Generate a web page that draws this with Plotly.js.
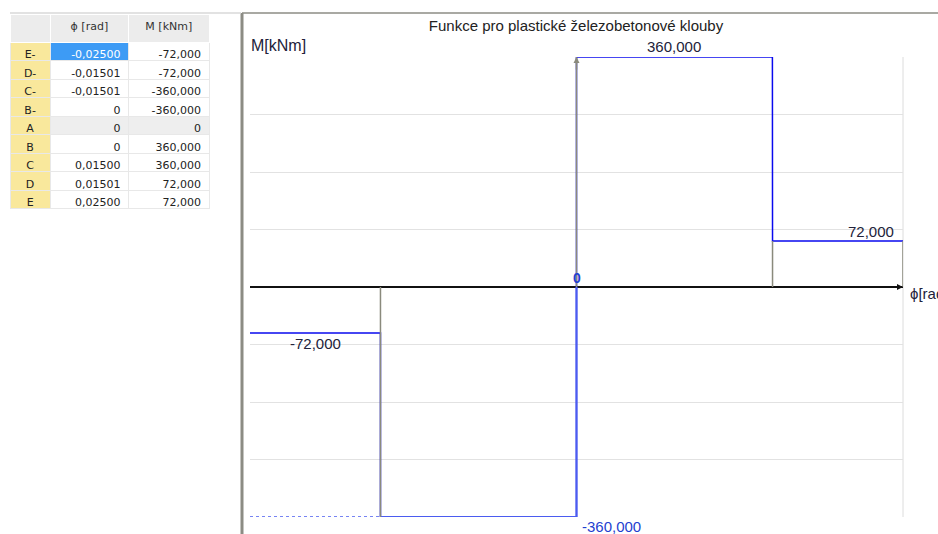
<!DOCTYPE html>
<html>
<head>
<meta charset="utf-8">
<script src="https://cdn.plot.ly/plotly-3.0.1.min.js"></script>
<style>
html,body{margin:0;padding:0;background:#fff;}
#chart{width:938px;height:534px;}
</style>
</head>
<body>
<div id="chart"></div>
<script>
// ---- data ----
const pointNames = ['E-','D-','C-','B-','A','B','C','D','E'];
const phi = [-0.025, -0.01501, -0.01501, 0, 0, 0, 0.015, 0.01501, 0.025];
const moment = [-72, -72, -360, -360, 0, 360, 360, 72, 72];
const headerLabels = ['', 'ϕ [rad]', 'M [kNm]'];
const chartTitle = 'Funkce pro plastické železobetonové klouby';
const yLabel = 'M[kNm]';
const xLabel = 'ϕ[rad]';

const fmt = (v, d) => v === 0 ? '0' : v.toFixed(d).replace('.', ',');
const phiText = phi.map(v => fmt(v, 5));
const mText = moment.map(v => fmt(v, 3));

const W = 938, H = 534;
const px = v => v / W, py = v => 1 - v / H;

const BLUE = '#0a0aee', BLUE2 = '#4b5cf0', GREY = '#8a8a7c';
const FONT = 'Liberation Sans, Arial, sans-serif';
const TFONT = 'DejaVu Sans, Verdana, sans-serif';

// main function line
const traces = [];
traces.push({type:'scatter', mode:'lines', x:phi, y:moment, line:{color:BLUE, width:1.5}, hoverinfo:'skip', showlegend:false});
// lower (negative) part drawn lighter
traces.push({type:'scatter', mode:'lines', x:phi.slice(2,5), y:moment.slice(2,5), line:{color:BLUE2, width:2}, hoverinfo:'skip', showlegend:false});
// dotted continuation of C- level to the left edge
traces.push({type:'scatter', mode:'lines', x:[phi[0], phi[2]], y:[moment[2], moment[2]], line:{color:BLUE2, width:1.5, dash:'dot'}, hoverinfo:'skip', showlegend:false});
// grey drop lines from axis to points C-, D, E
[2, 7, 8].forEach(i => {
  traces.push({type:'scatter', mode:'lines', x:[phi[i], phi[i]], y:[0, moment[i]], line:{color:GREY, width:1.5}, hoverinfo:'skip', showlegend:false});
});
// vertical axis (positive part) grey
traces.push({type:'scatter', mode:'lines', x:[phi[4], phi[5]], y:[moment[4], moment[5]], line:{color:GREY, width:1.5}, hoverinfo:'skip', showlegend:false});

// table
const nameFill = pointNames.map(() => '#f9e89c');
const phiFill = pointNames.map((n, i) => i === 0 ? '#3d9bf5' : (n === 'A' ? '#eeeeee' : '#ffffff'));
const mFill = pointNames.map(n => n === 'A' ? '#eeeeee' : '#ffffff');
const phiFont = pointNames.map((n, i) => i === 0 ? '#ffffff' : '#222222');
traces.push({
  type:'table',
  domain:{x:[px(10), px(209)], y:[py(210), py(14)]},
  columnwidth:[40, 78, 80],
  header:{values:headerLabels, height:28, align:'center',
    fill:{color:'#ececec'}, line:{color:'#ffffff', width:1},
    font:{family:TFONT, size:11, color:'#333333'}},
  cells:{values:[pointNames, phiText, mText], height:18.5,
    align:['center','right','right'],
    fill:{color:[nameFill, phiFill, mFill]}, line:{color:'#e8e8e8', width:1},
    font:{family:TFONT, size:11, color:['#222222', phiFont, '#222222']}}
});

const lblFont = {family:FONT, size:15, color:'#22223a'};
const blueFont = {family:FONT, size:15, color:'#1f3fd0'};

const annotations = [
  {xref:'paper', yref:'paper', x:px(249), y:py(46), xanchor:'left', yanchor:'middle', text:yLabel, showarrow:false, font:{family:FONT, size:16, color:'#22223a'}},
  {xref:'x', yref:'y', x:(phi[5]+phi[6])/2, y:moment[5], xanchor:'center', yanchor:'bottom', yshift:0, text:mText[5], showarrow:false, font:lblFont},
  {xref:'x', yref:'y', x:phi[8], y:moment[8], xanchor:'right', yanchor:'bottom', xshift:-7, yshift:-1, text:mText[8], showarrow:false, font:lblFont},
  {xref:'x', yref:'y', x:(phi[0]+phi[1])/2, y:moment[0], xanchor:'center', yanchor:'top', yshift:0, text:mText[0], showarrow:false, font:lblFont},
  {xref:'x', yref:'y', x:phi[3], y:moment[3], xanchor:'left', yanchor:'top', xshift:3, yshift:1, text:mText[3], showarrow:false, font:blueFont},
  {xref:'x', yref:'y', x:phi[4], y:moment[4], xanchor:'center', yanchor:'bottom', yshift:-1, text:'<b>' + mText[4] + '</b>', showarrow:false, font:{family:FONT, size:14, color:'#1f3fd0'}},
  {xref:'x', yref:'y', x:phi[8], y:0, xanchor:'left', yanchor:'middle', xshift:5, yshift:-6, text:xLabel, showarrow:false, font:lblFont},
  // axis arrows
  {xref:'x', yref:'y', x:phi[8], y:0, ax:-14, ay:0, text:'', showarrow:true, arrowhead:2, arrowsize:0.8, arrowwidth:1.5, arrowcolor:'#111111'},
  {xref:'x', yref:'y', x:0, y:moment[5], ax:0, ay:14, text:'', showarrow:true, arrowhead:2, arrowsize:0.8, arrowwidth:1.5, arrowcolor:GREY}
];

const shapes = [
  // right frame line of plot
  {type:'line', xref:'x domain', yref:'y domain', x0:1, x1:1, y0:0, y1:1, line:{color:'#dcdcdc', width:1}, layer:'below'},
  // panel borders
  {type:'line', xref:'paper', yref:'paper', x0:px(242), x1:px(242), y0:0, y1:py(13), line:{color:'#8c8c84', width:3}},
  {type:'line', xref:'paper', yref:'paper', x0:px(242), x1:1, y0:py(13), y1:py(13), line:{color:'#8c8c84', width:1.5}},
  {type:'line', xref:'paper', yref:'paper', x0:px(10), x1:px(241), y0:py(13), y1:py(13), line:{color:'#d8d8d8', width:1.5}}
];

const layout = {
  width:W, height:H,
  margin:{l:0, r:0, t:0, b:0},
  paper_bgcolor:'#ffffff', plot_bgcolor:'#ffffff',
  showlegend:false,
  title:{text:chartTitle, xref:'paper', yref:'paper', x:px(576), y:py(26), xanchor:'center', yanchor:'middle',
    font:{family:FONT, size:15, color:'#222222'}},
  xaxis:{domain:[px(250), px(903)], range:[phi[0], phi[8]], showgrid:false, zeroline:false,
    showticklabels:false, ticks:'', showline:false, fixedrange:true},
  yaxis:{domain:[1-517/H, 1-57/H], range:[-360, 360], dtick:90, tick0:0, showgrid:true, gridcolor:'#e2e2e2', gridwidth:1,
    zeroline:true, zerolinecolor:'#111111', zerolinewidth:1.5,
    showticklabels:false, ticks:'', showline:false, fixedrange:true},
  annotations:annotations,
  shapes:shapes
};

Plotly.newPlot('chart', traces, layout, {displayModeBar:false, staticPlot:true});
</script>
</body>
</html>
